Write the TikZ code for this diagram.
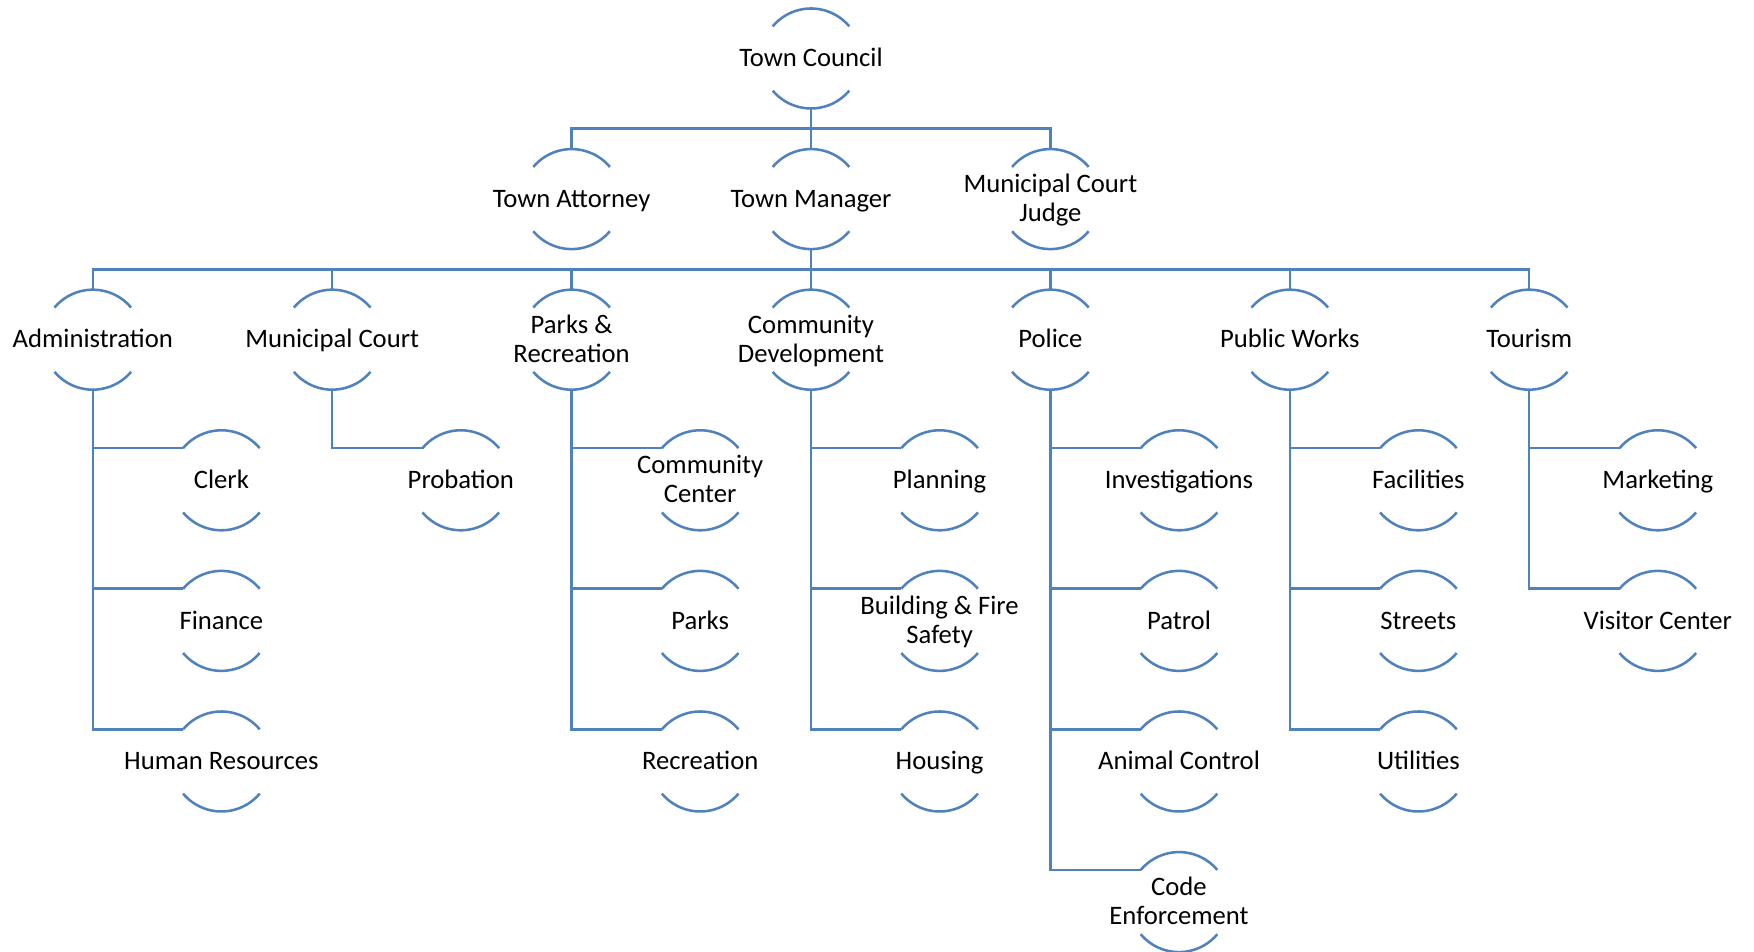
\documentclass[tikz,border=0pt]{standalone}
\usepackage{fontspec}
\setmainfont{Carlito}
\usepackage{tikz}
\usepackage{xcolor}
\definecolor{orgblue}{HTML}{4F81BD}
\newcommand{\unitstrut}{\rule[-4.8pt]{0pt}{21.8pt}}

\tikzset{
  unit/.style={rectangle, inner sep=0pt, outer sep=0pt, minimum height=75pt,
    align=center, font=\fontsize{20}{21.8}\selectfont,
    execute at begin node=\unitstrut, execute at end node=\unitstrut},
  twoline/.style={text height=35.6pt, text depth=2pt},
  orgline/.style={draw=orgblue, line width=1.9pt}
}

\begin{document}
\begin{tikzpicture}[x=0.75pt, y=0.75pt]
\useasboundingbox (0,0) rectangle (1754,952);

% top
\node[unit] (tc) at (811,893.5) {Town Council};
\node[unit] (att) at (571.6,752.9) {Town Attorney};
\node[unit] (mgr) at (811,752.9) {Town Manager};
\node[unit, twoline] (judge) at (1050.4,752.9) {Municipal Court\\Judge};

% departments
\node[unit] (admin) at (92.8,612.3) {Administration};
\node[unit] (court) at (332.2,612.3) {Municipal Court};
\node[unit, twoline] (parks) at (571.6,612.3) {Parks \&\\Recreation};
\node[unit, twoline] (comdev) at (811,612.3) {Community\\Development};
\node[unit] (police) at (1050.4,612.3) {Police};
\node[unit] (pubworks) at (1289.8,612.3) {Public Works};
\node[unit] (tourism) at (1529.2,612.3) {Tourism};

% divisions
\node[unit] (clerk) at (221.4,471.7) {Clerk};
\node[unit] (finance) at (221.4,331.1) {Finance};
\node[unit] (hr) at (221.4,190.5) {Human Resources};
\node[unit] (probation) at (460.8,471.7) {Probation};
\node[unit, twoline] (comctr) at (700.2,471.7) {Community\\Center};
\node[unit] (parksub) at (700.2,331.1) {Parks};
\node[unit] (rec) at (700.2,190.5) {Recreation};
\node[unit] (planning) at (939.6,471.7) {Planning};
\node[unit, twoline] (bldg) at (939.6,331.1) {Building \& Fire\\Safety};
\node[unit] (housing) at (939.6,190.5) {Housing};
\node[unit] (invest) at (1179,471.7) {Investigations};
\node[unit] (patrol) at (1179,331.1) {Patrol};
\node[unit] (animal) at (1179,190.5) {Animal Control};
\node[unit, twoline] (code) at (1179,49.9) {Code\\Enforcement};
\node[unit] (facil) at (1418.4,471.7) {Facilities};
\node[unit] (streets) at (1418.4,331.1) {Streets};
\node[unit] (util) at (1418.4,190.5) {Utilities};
\node[unit] (mkt) at (1657.8,471.7) {Marketing};
\node[unit] (visitor) at (1657.8,331.1) {Visitor Center};

% arcs round every unit
\foreach \n in {tc,att,mgr,judge,admin,court,parks,comdev,police,pubworks,tourism,
  clerk,finance,hr,probation,comctr,parksub,rec,planning,bldg,housing,
  invest,patrol,animal,code,facil,streets,util,mkt,visitor}{
  \draw[orgline] ([shift={(40:50)}]\n.center) arc[start angle=40, end angle=140, radius=50]
    ([shift={(220:50)}]\n.center) arc[start angle=220, end angle=320, radius=50];
  \coordinate (\n-in) at ([shift={(140:50)}]\n.center);
}

% council
\foreach \n in {att,mgr,judge}
  \draw[orgline] (tc.south) -- ++(0,-20) -| (\n.north);

% manager
\foreach \n in {admin,court,parks,comdev,police,pubworks,tourism}
  \draw[orgline] (mgr.south) -- ++(0,-20.5) -| (\n.north);

% divisions
\foreach \p/\c in {admin/clerk,admin/finance,admin/hr,court/probation,
  parks/comctr,parks/parksub,parks/rec,comdev/planning,comdev/bldg,comdev/housing,
  police/invest,police/patrol,police/animal,police/code,
  pubworks/facil,pubworks/streets,pubworks/util,tourism/mkt,tourism/visitor}
  \draw[orgline] (\p.south) |- (\c-in);
\end{tikzpicture}
\end{document}
